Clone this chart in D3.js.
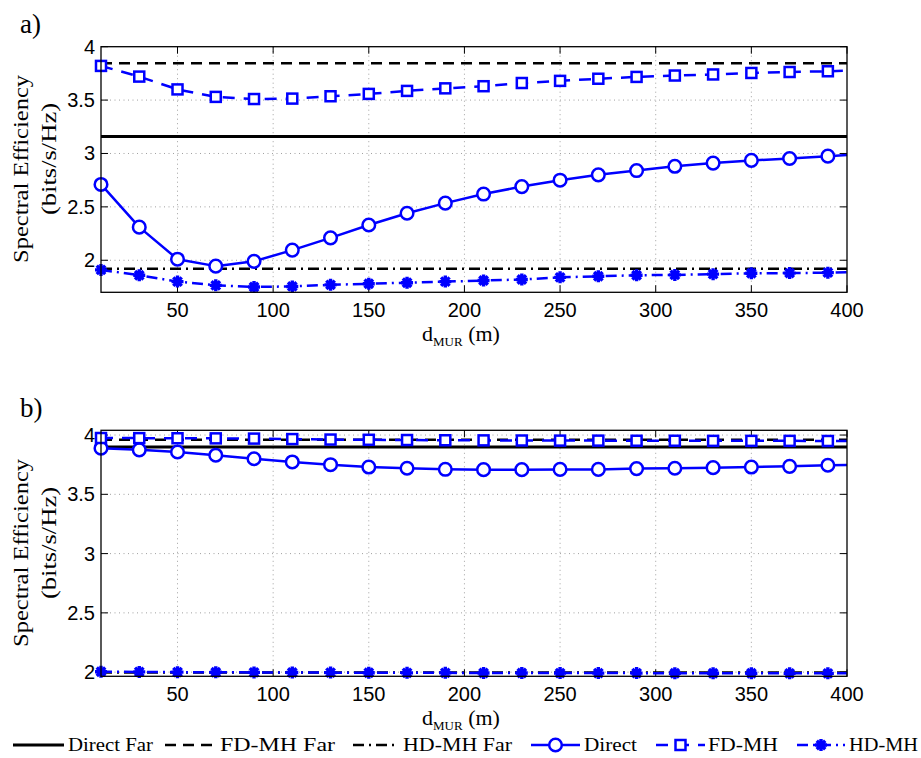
<!DOCTYPE html>
<html><head><meta charset="utf-8">
<script src="https://cdn.jsdelivr.net/npm/d3@7"></script>
<style>body{margin:0;background:#fff}</style>
</head><body><svg id="c" width="921" height="758"></svg>
<script>
// ---------------- data ----------------
const distances = [10,30,50,70,90,110,130,150,170,190,210,230,250,270,290,310,330,350,370,390,400];
const xTicks = [50,100,150,200,250,300,350,400];
const yTicks = [2,2.5,3,3.5,4];
const yTickLabels = ["2","2.5","3","3.5","4"];
const seriesNames = ["Direct Far","FD-MH Far","HD-MH Far","Direct","FD-MH","HD-MH"];

// panel a)
const directFarA = 3.16;
const fdmhFarA = 3.845;
const hdmhFarA = 1.92;
const directA = [2.71,2.31,2.01,1.945,1.99,2.095,2.21,2.33,2.44,2.535,2.62,2.69,2.75,2.80,2.84,2.88,2.91,2.935,2.953,2.975,2.985];
const fdmhA   = [3.82,3.72,3.60,3.53,3.51,3.514,3.536,3.558,3.586,3.61,3.63,3.66,3.68,3.70,3.717,3.73,3.74,3.754,3.763,3.77,3.775];
const hdmhA   = [1.91,1.86,1.80,1.765,1.75,1.755,1.77,1.78,1.79,1.80,1.81,1.82,1.84,1.85,1.86,1.863,1.87,1.878,1.88,1.884,1.887];

// panel b)
const directFarB = 3.899;
const fdmhFarB = 3.96;
const hdmhFarB = 1.997;
const directB = [3.889,3.875,3.857,3.83,3.80,3.773,3.75,3.73,3.72,3.711,3.708,3.708,3.71,3.71,3.717,3.72,3.725,3.73,3.736,3.745,3.748];
const fdmhB   = [3.975,3.974,3.973,3.972,3.970,3.966,3.962,3.960,3.958,3.956,3.955,3.954,3.953,3.953,3.952,3.952,3.951,3.951,3.951,3.950,3.950];
const hdmhB   = [2.003,2.002,2.000,1.999,1.998,1.997,1.996,1.995,1.994,1.994,1.993,1.993,1.992,1.992,1.992,1.991,1.991,1.991,1.990,1.990,1.990];

// ---------------- drawing ----------------
const svg = d3.select("#c");
const BLUE = "#0000ff";
const serif = "'Liberation Serif','DejaVu Serif',serif";
const sans = "'Liberation Sans',Arial,sans-serif";
const L = 101, R = 847;
const x = d3.scaleLinear().domain([10,400]).range([L,R]);

const styles = {
  "Direct Far": {color:"#000", width:3, dash:null},
  "FD-MH Far":  {color:"#000", width:2.6, dash:"11,7"},
  "HD-MH Far":  {color:"#000", width:2.6, dash:"11,5,2,5"},
  "Direct":     {color:BLUE, width:2.5, dash:null, marker:"circle"},
  "FD-MH":      {color:BLUE, width:2.5, dash:"12,9", marker:"square"},
  "HD-MH":      {color:BLUE, width:2.5, dash:"11,5,2,5", marker:"star"}
};

function drawMarker(g, type, cx, cy, color){
  if(type==="circle"){
    g.append("circle").attr("cx",cx).attr("cy",cy).attr("r",6.3)
      .attr("fill","#fff").attr("stroke",color).attr("stroke-width",2.5);
  } else if(type==="square"){
    g.append("rect").attr("x",cx-5).attr("y",cy-5).attr("width",10).attr("height",10)
      .attr("fill","#fff").attr("stroke",color).attr("stroke-width",2.5);
  } else if(type==="star"){
    const r=6;
    let p="";
    [0,45,90,135].forEach(a=>{
      const t=a*Math.PI/180, dx=r*Math.cos(t), dy=r*Math.sin(t);
      p+=`M${cx-dx},${cy-dy}L${cx+dx},${cy+dy}`;
    });
    g.append("path").attr("d",p).attr("stroke",color).attr("stroke-width",3.4).attr("fill","none");
  }
}

function panel(opts){
  const {top,bottom,domain,far,series,label,labelY,xlabY} = opts;
  const y = d3.scaleLinear().domain(domain).range([bottom,top]);
  const g = svg.append("g");
  // grid
  const grid = g.append("g").attr("stroke","#a0a0a0").attr("stroke-width",1).attr("stroke-dasharray","1,3.5");
  xTicks.filter(t=>t<400).forEach(t=>grid.append("line").attr("x1",x(t)).attr("x2",x(t)).attr("y1",top).attr("y2",bottom));
  yTicks.filter(t=>y(t)>top+1).forEach(t=>grid.append("line").attr("x1",L).attr("x2",R).attr("y1",y(t)).attr("y2",y(t)));
  // tick marks (inward) on all sides
  const tk = g.append("g").attr("stroke","#000").attr("stroke-width",1);
  xTicks.forEach(t=>{
    tk.append("line").attr("x1",x(t)).attr("x2",x(t)).attr("y1",bottom).attr("y2",bottom-7);
    tk.append("line").attr("x1",x(t)).attr("x2",x(t)).attr("y1",top).attr("y2",top+7);
  });
  yTicks.forEach(t=>{
    tk.append("line").attr("x1",L).attr("x2",L+7).attr("y1",y(t)).attr("y2",y(t));
    tk.append("line").attr("x1",R).attr("x2",R-7).attr("y1",y(t)).attr("y2",y(t));
  });
  // clip
  const cid = "clip"+label;
  svg.append("clipPath").attr("id",cid).append("rect").attr("x",L).attr("y",top).attr("width",R-L).attr("height",bottom-top);
  const plot = g.append("g").attr("clip-path",`url(#${cid})`);
  const line = d3.line().x(d=>x(d[0])).y(d=>y(d[1]));
  // far (horizontal reference) lines
  far.forEach(([name,val])=>{
    const s = styles[name];
    plot.append("path").attr("d",line([[10,val],[400,val]])).attr("fill","none")
      .attr("stroke",s.color).attr("stroke-width",s.width).attr("stroke-dasharray",s.dash);
  });
  // blue series
  series.forEach(([name,vals])=>{
    const s = styles[name];
    const pts = distances.map((d,i)=>[d,vals[i]]);
    plot.append("path").attr("d",line(pts)).attr("fill","none")
      .attr("stroke",s.color).attr("stroke-width",s.width).attr("stroke-dasharray",s.dash)
      .attr("stroke-linejoin","round");
  });
  const mk = g.append("g");
  series.forEach(([name,vals])=>{
    const s = styles[name];
    distances.forEach((d,i)=>{ if(d<400) drawMarker(mk,s.marker,x(d),y(vals[i]),s.color); });
  });
  // frame
  g.append("rect").attr("x",L).attr("y",top).attr("width",R-L).attr("height",bottom-top)
    .attr("fill","none").attr("stroke","#000").attr("stroke-width",1.3);
  // tick labels
  xTicks.forEach(t=>g.append("text").attr("x",x(t)).attr("y",bottom+25).attr("text-anchor","middle")
    .attr("font-family",sans).attr("font-size",20).text(t));
  yTicks.forEach((t,i)=>g.append("text").attr("x",L-6).attr("y",y(t)+7).attr("text-anchor","end")
    .attr("font-family",sans).attr("font-size",20).text(yTickLabels[i]));
  // y label
  const yc1 = labelY[0], yc2 = labelY[1];
  g.append("text").attr("transform",`translate(28,${yc1}) rotate(-90)`).attr("text-anchor","middle")
    .attr("font-family",serif).attr("font-size",22).attr("textLength",188).attr("lengthAdjust","spacingAndGlyphs")
    .text("Spectral Efficiency");
  g.append("text").attr("transform",`translate(56,${yc2}) rotate(-90)`).attr("text-anchor","middle")
    .attr("font-family",serif).attr("font-size",22).attr("textLength",112).attr("lengthAdjust","spacingAndGlyphs")
    .text("(bits/s/Hz)");
  // x label
  const xl = g.append("text").attr("x",422).attr("y",xlabY).attr("font-family",serif).attr("font-size",22);
  xl.append("tspan").text("d");
  xl.append("tspan").attr("font-size",13).attr("dy",5).text("MUR");
  xl.append("tspan").attr("dy",-5).text(" (m)");
  // panel label
  g.append("text").attr("x",20).attr("y",opts.tagY).attr("font-family",serif).attr("font-size",27).text(label+")");
}

panel({top:46.7,bottom:292.3,domain:[1.7,4],label:"a",tagY:33,xlabY:341,labelY:[169,159],
  far:[["Direct Far",directFarA],["FD-MH Far",fdmhFarA],["HD-MH Far",hdmhFarA]],
  series:[["Direct",directA],["FD-MH",fdmhA],["HD-MH",hdmhA]]});
panel({top:430.3,bottom:676.3,domain:[1.965,4.04],label:"b",tagY:417,xlabY:725,labelY:[553,543],
  far:[["Direct Far",directFarB],["FD-MH Far",fdmhFarB],["HD-MH Far",hdmhFarB]],
  series:[["Direct",directB],["FD-MH",fdmhB],["HD-MH",hdmhB]]});

// legend
const legPos = [[13,64,68,85],[165,216,220,115],[353,399,403,109],[531,580,584,53],[656,705,708,70],[797,845,849,69]];
const lg = svg.append("g");
const ly = 745;
seriesNames.forEach((name,i)=>{
  const s = styles[name], p = legPos[i];
  lg.append("line").attr("x1",p[0]).attr("x2",p[1]).attr("y1",ly).attr("y2",ly)
    .attr("stroke",s.color).attr("stroke-width",s.width).attr("stroke-dasharray",s.dash);
  if(s.marker) drawMarker(lg,s.marker,(p[0]+p[1])/2,ly,s.color);
  lg.append("text").attr("x",p[2]).attr("y",ly+6).attr("font-family",serif).attr("font-size",18)
    .attr("textLength",p[3]).attr("lengthAdjust","spacingAndGlyphs").text(name);
});
</script></body></html>
